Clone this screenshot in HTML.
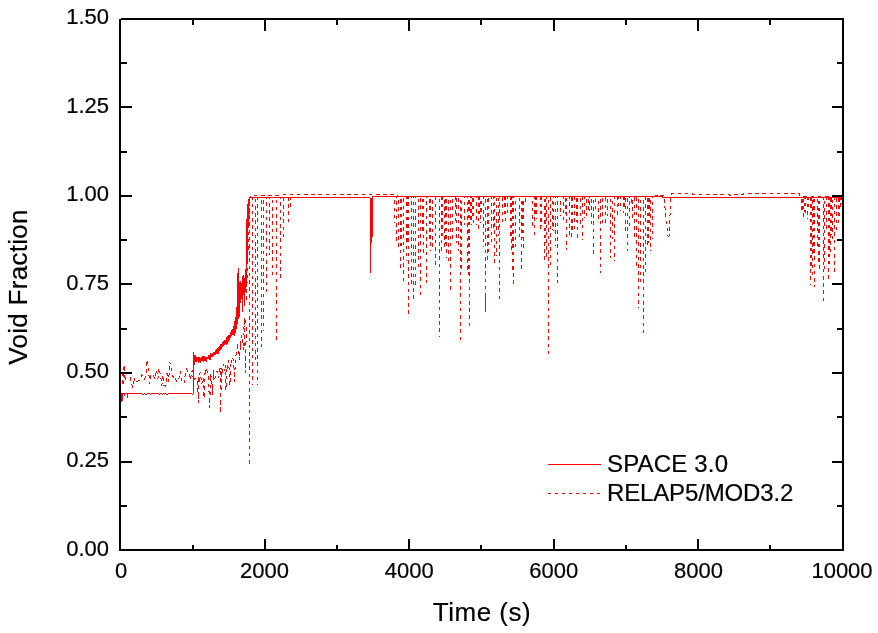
<!DOCTYPE html>
<html><head><meta charset="utf-8"><title>Void Fraction</title>
<style>html,body{margin:0;padding:0;background:#fff;}svg{display:block;}</style>
</head><body>
<svg width="878" height="633" viewBox="0 0 878 633">
<rect width="878" height="633" fill="#fff"/>
<g fill="none" stroke="#f00" stroke-width="1" shape-rendering="crispEdges">
<g stroke-dasharray="3.6 3.6">
<polyline points="121.0,373.5 122.0,373.8 122.9,385.7 124.1,365.1 125.0,381.1 126.4,374.2 127.1,372.9 128.5,373.3 129.2,373.0 130.1,374.3 131.2,382.3 132.7,387.7 133.4,382.0 134.1,377.4 135.2,383.0 136.7,381.1 138.3,381.0 140.0,379.9 141.6,374.8 143.0,375.2 144.7,379.1 146.3,374.0 147.0,359.6 148.3,368.0 149.7,384.1 150.7,374.9 152.4,374.9 153.4,375.1 155.0,379.3 156.4,369.9 158.0,378.6 159.0,367.9 159.9,371.9 161.0,378.9 161.8,385.6 163.2,374.9 164.0,385.9 165.6,386.1 167.0,373.4 168.6,381.8 169.8,361.6 171.3,369.7 172.7,375.4 173.9,379.9 175.6,379.0 177.0,382.2 178.6,380.6 180.1,371.3 181.5,379.6 183.2,383.9 184.3,382.9 185.1,375.4 186.3,368.9 187.9,371.4 188.8,371.1 190.4,379.8 192.1,370.3 193.6,381.6 195.2,378.0 197.0,378.3 198.4,403.0 199.3,375.5 198.2,382.7 200.1,372.1 201.9,384.0 203.4,377.4 204.0,398.0 204.9,373.3 204.8,376.1 206.3,368.0 208.3,375.3 209.7,407.5 210.6,374.0 210.1,375.5 211.5,377.1 212.5,395.0 213.4,369.7 212.9,372.3 214.8,379.8 216.0,372.2 216.9,371.1 218.7,377.8 220.1,367.9 220.6,413.0 221.5,367.7 221.6,377.0 222.6,374.1 223.4,364.2 224.5,371.3 225.7,365.2 226.0,390.0 226.9,368.8 226.6,370.6 227.5,366.5 228.6,360.5 230.0,385.0 230.9,365.7 230.0,362.1 231.2,363.2 232.2,357.0 233.8,361.5 234.5,382.0 235.4,359.5 235.6,357.0 237.4,346.9 237.3,343.0 238.2,353.6 239.2,352.8 239.5,360.0 240.4,344.5 240.4,349.6 241.4,335.0 242.3,340.0 242.4,343.0 243.5,350.0 244.4,333.2 243.5,335.4 244.6,317.9 245.4,372.6 246.3,327.7 245.9,320.3"/>
<polyline points="246.5,300.0 248.0,250.0 249.5,200.0 250.5,195.5 282.0,195.5 284.0,194.5 397.0,194.5 398.0,196.5 655.0,196.5 657.0,195.0 658.0,196.0 659.0,194.0 661.0,196.0 663.0,195.5 664.0,197.0 666.0,218.0 668.0,236.0 669.0,236.0 670.0,215.0 671.0,198.0 672.0,193.5 692.0,193.5 693.0,194.5 729.0,194.5 730.0,195.5 733.0,195.5 734.0,194.5 743.0,194.5 744.0,193.5 799.0,193.5 800.0,196.5 842.0,196.5"/>
<path d="M249.5 196.5V464.0" stroke-dashoffset="2.9"/>
<path d="M252.5 196.5V385.0" stroke-dashoffset="0.1"/>
<path d="M255.5 196.5V360.0" stroke-dashoffset="4.9"/>
<path d="M257.5 196.5V385.0" stroke-dashoffset="7.0"/>
<path d="M261.5 196.5V347.0" stroke-dashoffset="3.6"/>
<path d="M263.5 196.5V331.0" stroke-dashoffset="3.6"/>
<path d="M266.5 196.5V293.0" stroke-dashoffset="1.4"/>
<path d="M269.5 196.5V255.0" stroke-dashoffset="0.8"/>
<path d="M272.5 196.5V277.0" stroke-dashoffset="4.0"/>
<path d="M276.5 196.5V340.7" stroke-dashoffset="4.1"/>
<path d="M280.5 196.5V280.6" stroke-dashoffset="1.3"/>
<path d="M283.5 196.5V240.0" stroke-dashoffset="6.0"/>
<path d="M288.5 196.5V223.6" stroke-dashoffset="6.7"/>
<path d="M290.5 196.5V211.0" stroke-dashoffset="0.4"/>
<path d="M394.5 196.5V223.0" stroke-dashoffset="3.3"/>
<path d="M396.5 196.5V244.0" stroke-dashoffset="2.4"/>
<path d="M398.5 196.5V246.5" stroke-dashoffset="3.7"/>
<path d="M400.5 196.5V268.0M401.5 196.5V249.1" stroke-dashoffset="4.3"/>
<path d="M403.5 196.5V284.4" stroke-dashoffset="5.3"/>
<path d="M406.5 196.5V260.7M407.5 196.5V246.0" stroke-dashoffset="1.4"/>
<path d="M408.5 196.5V315.0" stroke-dashoffset="1.4"/>
<path d="M411.5 196.5V287.0" stroke-dashoffset="2.5"/>
<path d="M413.5 196.5V301.0M415.5 196.5V286.8" stroke-dashoffset="2.0"/>
<path d="M418.5 196.5V270.0" stroke-dashoffset="5.0"/>
<path d="M420.5 196.5V296.0" stroke-dashoffset="5.5"/>
<path d="M423.5 196.5V253.6M422.5 196.5V230.9" stroke-dashoffset="5.2"/>
<path d="M426.5 196.5V283.0" stroke-dashoffset="2.6"/>
<path d="M430.5 196.5V251.0M429.5 196.5V238.5" stroke-dashoffset="4.5"/>
<path d="M432.5 196.5V246.5" stroke-dashoffset="3.8"/>
<path d="M435.5 196.5V265.5" stroke-dashoffset="7.2"/>
<path d="M439.5 196.5V336.5" stroke-dashoffset="5.0"/>
<path d="M441.5 196.5V253.6M442.5 196.5V238.4" stroke-dashoffset="7.1"/>
<path d="M444.5 196.5V246.5" stroke-dashoffset="3.6"/>
<path d="M446.5 196.5V258.0M445.5 196.5V243.5" stroke-dashoffset="4.7"/>
<path d="M448.5 196.5V263.0" stroke-dashoffset="3.7"/>
<path d="M450.5 196.5V290.0" stroke-dashoffset="4.1"/>
<path d="M452.5 196.5V239.4" stroke-dashoffset="4.6"/>
<path d="M455.5 196.5V223.0" stroke-dashoffset="0.5"/>
<path d="M458.5 196.5V251.0M456.5 196.5V243.2" stroke-dashoffset="5.5"/>
<path d="M460.5 196.5V341.0" stroke-dashoffset="3.9"/>
<path d="M461.5 196.5V270.0" stroke-dashoffset="3.1"/>
<path d="M464.5 196.5V225.0" stroke-dashoffset="2.0"/>
<path d="M467.5 196.5V272.6" stroke-dashoffset="2.2"/>
<path d="M469.5 196.5V327.0M468.5 196.5V275.3" stroke-dashoffset="3.5"/>
<path d="M471.5 196.5V225.0M470.5 196.5V221.3" stroke-dashoffset="1.8"/>
<path d="M473.5 196.5V222.8M472.5 196.5V218.0" stroke-dashoffset="5.4"/>
<path d="M476.5 196.5V225.0" stroke-dashoffset="1.8"/>
<path d="M478.5 196.5V230.0M479.5 196.5V217.1" stroke-dashoffset="0.3"/>
<path d="M480.5 196.5V222.8M481.5 196.5V215.1" stroke-dashoffset="3.0"/>
<path d="M483.5 196.5V246.5" stroke-dashoffset="1.0"/>
<path d="M485.5 196.5V294.0" stroke-dashoffset="4.3"/>
<path d="M487.5 196.5V263.0" stroke-dashoffset="4.9"/>
<path d="M488.5 196.5V253.6" stroke-dashoffset="5.4"/>
<path d="M491.5 196.5V244.0M493.5 196.5V232.2" stroke-dashoffset="1.0"/>
<path d="M494.5 196.5V263.0" stroke-dashoffset="2.2"/>
<path d="M496.5 196.5V256.0M498.5 196.5V235.6" stroke-dashoffset="6.1"/>
<path d="M499.5 196.5V303.4" stroke-dashoffset="1.8"/>
<path d="M502.5 196.5V225.0" stroke-dashoffset="6.6"/>
<path d="M505.5 196.5V222.8M504.5 196.5V217.2" stroke-dashoffset="0.3"/>
<path d="M507.5 196.5V213.0" stroke-dashoffset="0.7"/>
<path d="M511.5 196.5V253.6M510.5 196.5V239.1" stroke-dashoffset="0.5"/>
<path d="M513.5 196.5V286.8M512.5 196.5V272.4" stroke-dashoffset="2.5"/>
<path d="M515.5 196.5V248.9" stroke-dashoffset="3.2"/>
<path d="M519.5 196.5V239.4" stroke-dashoffset="6.0"/>
<path d="M521.5 196.5V272.6" stroke-dashoffset="3.2"/>
<path d="M523.5 196.5V251.0M522.5 196.5V238.2" stroke-dashoffset="2.8"/>
<path d="M525.5 196.5V206.0" stroke-dashoffset="5.4"/>
<path d="M532.5 196.5V227.5" stroke-dashoffset="3.1"/>
<path d="M534.5 196.5V239.4" stroke-dashoffset="0.7"/>
<path d="M536.5 196.5V219.0M535.5 196.5V215.6" stroke-dashoffset="0.6"/>
<path d="M540.5 196.5V232.0M541.5 196.5V225.5" stroke-dashoffset="0.1"/>
<path d="M544.5 196.5V262.0M545.5 196.5V243.0" stroke-dashoffset="5.0"/>
<path d="M546.5 196.5V259.0" stroke-dashoffset="0.8"/>
<path d="M548.5 196.5V357.3" stroke-dashoffset="4.1"/>
<path d="M550.5 196.5V267.0" stroke-dashoffset="6.8"/>
<path d="M552.5 196.5V229.6" stroke-dashoffset="3.2"/>
<path d="M555.5 196.5V245.8M553.5 196.5V231.4" stroke-dashoffset="2.2"/>
<path d="M557.5 196.5V283.4" stroke-dashoffset="2.6"/>
<path d="M560.5 196.5V216.0" stroke-dashoffset="2.8"/>
<path d="M563.5 196.5V221.6" stroke-dashoffset="1.4"/>
<path d="M565.5 196.5V213.5" stroke-dashoffset="5.7"/>
<path d="M566.5 196.5V249.8" stroke-dashoffset="6.0"/>
<path d="M569.5 196.5V235.0" stroke-dashoffset="1.3"/>
<path d="M571.5 196.5V240.4M572.5 196.5V230.3" stroke-dashoffset="6.3"/>
<path d="M574.5 196.5V229.6" stroke-dashoffset="7.0"/>
<path d="M577.5 196.5V237.7M576.5 196.5V222.2" stroke-dashoffset="5.8"/>
<path d="M580.5 196.5V227.0" stroke-dashoffset="5.3"/>
<path d="M582.5 196.5V240.4" stroke-dashoffset="0.6"/>
<path d="M584.5 196.5V218.0" stroke-dashoffset="1.0"/>
<path d="M586.5 196.5V215.7M588.5 196.5V210.3" stroke-dashoffset="4.7"/>
<path d="M589.5 196.5V211.0" stroke-dashoffset="2.4"/>
<path d="M591.5 196.5V225.0" stroke-dashoffset="4.8"/>
<path d="M593.5 196.5V256.0" stroke-dashoffset="3.9"/>
<path d="M595.5 196.5V213.3" stroke-dashoffset="5.1"/>
<path d="M598.5 196.5V220.4" stroke-dashoffset="3.0"/>
<path d="M600.5 196.5V272.6" stroke-dashoffset="4.8"/>
<path d="M602.5 196.5V225.0" stroke-dashoffset="5.8"/>
<path d="M605.5 196.5V222.8" stroke-dashoffset="6.4"/>
<path d="M607.5 196.5V215.7" stroke-dashoffset="4.6"/>
<path d="M610.5 196.5V258.4" stroke-dashoffset="5.1"/>
<path d="M612.5 196.5V239.4" stroke-dashoffset="3.0"/>
<path d="M614.5 196.5V260.7" stroke-dashoffset="1.1"/>
<path d="M617.5 196.5V215.7" stroke-dashoffset="7.1"/>
<path d="M620.5 196.5V211.0M618.5 196.5V209.4" stroke-dashoffset="1.2"/>
<path d="M623.5 196.5V213.3M624.5 196.5V211.2" stroke-dashoffset="0.4"/>
<path d="M627.5 196.5V251.2M625.5 196.5V232.6" stroke-dashoffset="5.4"/>
<path d="M629.5 196.5V230.0" stroke-dashoffset="2.6"/>
<path d="M631.5 196.5V206.0" stroke-dashoffset="4.3"/>
<path d="M632.5 196.5V218.0" stroke-dashoffset="3.7"/>
<path d="M634.5 196.5V239.4" stroke-dashoffset="6.4"/>
<path d="M636.5 196.5V265.5" stroke-dashoffset="6.6"/>
<path d="M638.5 196.5V308.0" stroke-dashoffset="4.5"/>
<path d="M640.5 196.5V282.0" stroke-dashoffset="4.0"/>
<path d="M643.5 196.5V334.0" stroke-dashoffset="3.5"/>
<path d="M645.5 196.5V275.0" stroke-dashoffset="6.9"/>
<path d="M647.5 196.5V249.0M648.5 196.5V242.9" stroke-dashoffset="5.6"/>
<path d="M649.5 196.5V225.0" stroke-dashoffset="5.8"/>
<path d="M650.5 196.5V251.0" stroke-dashoffset="3.8"/>
<path d="M652.5 196.5V239.4" stroke-dashoffset="2.0"/>
<path d="M801.5 196.5V212.8M802.5 196.5V210.2" stroke-dashoffset="4.7"/>
<path d="M803.5 196.5V218.5" stroke-dashoffset="5.1"/>
<path d="M805.5 196.5V216.6M804.5 196.5V212.4" stroke-dashoffset="1.1"/>
<path d="M807.5 196.5V218.5M808.5 196.5V211.0" stroke-dashoffset="7.2"/>
<path d="M810.5 196.5V284.8M811.5 196.5V265.8" stroke-dashoffset="6.6"/>
<path d="M812.5 196.5V275.3" stroke-dashoffset="3.8"/>
<path d="M814.5 196.5V286.7M813.5 196.5V255.8" stroke-dashoffset="5.0"/>
<path d="M817.5 196.5V248.8" stroke-dashoffset="4.9"/>
<path d="M819.5 196.5V273.4M818.5 196.5V264.5" stroke-dashoffset="3.2"/>
<path d="M823.5 196.5V303.7" stroke-dashoffset="6.9"/>
<path d="M824.5 196.5V271.5" stroke-dashoffset="2.9"/>
<path d="M826.5 196.5V230.0" stroke-dashoffset="7.2"/>
<path d="M828.5 196.5V279.0M829.5 196.5V264.5" stroke-dashoffset="0.5"/>
<path d="M830.5 196.5V254.5M831.5 196.5V235.4" stroke-dashoffset="5.6"/>
<path d="M832.5 196.5V239.3" stroke-dashoffset="4.1"/>
<path d="M834.5 196.5V273.4" stroke-dashoffset="0.1"/>
<path d="M836.5 196.5V230.0M838.5 196.5V226.2" stroke-dashoffset="5.8"/>
<path d="M839.5 196.5V220.4" stroke-dashoffset="5.4"/>
<path d="M840.5 196.5V207.0M841.5 196.5V203.8" stroke-dashoffset="0.6"/>
</g>
<polyline points="120.5,401.0 121.5,401.0 121.5,393.5 124.0,393.5 124.5,395.5 125.0,393.5 127.5,393.5 127.5,398.0 128.0,393.5 128.0,393.5 129.5,393.5 131.0,393.5 132.5,393.5 134.0,393.5 135.5,393.5 137.0,393.5 138.5,393.5 140.0,393.5 141.5,393.5 143.0,394.5 144.5,393.5 146.0,394.5 147.5,393.5 149.0,393.5 150.5,394.5 152.0,393.5 153.5,393.5 155.0,393.5 156.5,393.5 158.0,393.5 159.5,394.5 161.0,393.5 162.5,394.5 164.0,393.5 165.5,393.5 167.0,394.5 168.5,393.5 170.0,393.5 171.5,393.5 173.0,393.5 174.5,393.5 176.0,393.5 177.5,393.5 179.0,393.5 180.5,393.5 182.0,393.5 183.5,393.5 185.0,393.5 186.5,393.5 188.0,393.5 189.5,393.5 191.0,393.5 192.5,394.5 193.5,393.5 193.5,353.0"/>
<polyline points="249.5,197.5 370.0,197.5 370.5,272.5 370.5,198.0 372.5,198.0 372.5,196.5 662.5,196.5 662.5,197.5 843.0,197.5"/>
<path d="M371.5 198V243M372.5 198V237M485.5 294V312M239.5 300V317M242.5 296V312M244.5 292V306"/>
<polygon points="193.3,351.8 194.3,355.1 195.3,355.1 196.3,357.1 197.3,357.4 198.3,356.6 199.3,356.8 200.3,358.8 201.3,356.7 202.3,356.5 203.3,356.3 204.3,356.3 205.3,357.3 206.3,356.7 207.3,356.9 208.3,355.5 209.3,354.9 210.3,353.1 211.3,354.5 212.3,353.9 213.3,351.3 214.3,352.5 215.3,350.7 216.3,349.7 217.3,347.5 218.3,347.7 219.3,346.6 220.3,344.4 221.3,344.6 222.3,342.2 223.3,340.9 224.3,339.7 225.3,340.5 226.3,337.3 227.3,336.2 228.3,335.1 229.3,335.1 230.3,333.1 231.3,329.6 232.3,329.4 233.3,326.8 234.3,321.5 235.3,318.4 236.3,310.8 237.0,300.0 237.6,268.0 238.8,268.0 239.3,282.0 240.5,281.0 241.2,286.0 242.0,277.0 243.5,275.0 244.3,280.0 245.0,274.0 246.2,262.0 246.2,225.0 247.3,205.0 249.0,197.0 250.2,197.0 249.5,205.0 248.5,225.0 247.5,262.0 247.3,290.0 246.5,287.2 245.5,291.9 244.5,292.2 243.5,295.0 242.5,298.2 241.5,299.0 240.5,303.2 239.5,312.0 238.5,318.7 237.5,323.9 236.5,329.2 235.5,332.7 234.5,335.6 233.5,335.2 232.5,335.3 231.5,336.3 230.5,337.6 229.5,339.8 228.5,342.4 227.5,343.9 226.5,345.2 225.5,344.2 224.5,345.2 223.5,346.3 222.5,347.4 221.5,349.3 220.5,350.4 219.5,350.7 218.5,353.7 217.5,353.5 216.5,354.4 215.5,355.2 214.5,355.3 213.5,356.0 212.5,356.7 211.5,357.4 210.5,359.9 209.5,360.4 208.5,358.9 207.5,359.4 206.5,361.7 205.5,360.8 204.5,361.1 203.5,362.4 202.5,361.4 201.5,360.8 200.5,362.9 199.5,361.9 198.5,363.2 197.5,361.2 196.5,362.0 195.5,361.8 194.5,365.0 194.3,364.0 194.3,394.0" fill="#f00" stroke="none"/>
<rect x="121" y="393" width="2" height="8" fill="#f00" stroke="none"/>
</g>
<g stroke="#000" stroke-width="2" fill="none">
<path d="M121 19H844M120 19V551M843 18V551M119 550H844"/>
<path d="M193 550V545M193 19V25"/>
<path d="M265 550V539M265 19V31"/>
<path d="M337 550V545M337 19V25"/>
<path d="M409 550V539M409 19V31"/>
<path d="M481 550V545M481 19V25"/>
<path d="M554 550V539M554 19V31"/>
<path d="M626 550V545M626 19V25"/>
<path d="M698 550V539M698 19V31"/>
<path d="M770 550V545M770 19V25"/>
<path d="M120 506H127M843 506H837"/>
<path d="M120 462H132M843 462H832"/>
<path d="M120 417H127M843 417H837"/>
<path d="M120 373H132M843 373H832"/>
<path d="M120 329H127M843 329H837"/>
<path d="M120 284H132M843 284H832"/>
<path d="M120 240H127M843 240H837"/>
<path d="M120 196H132M843 196H832"/>
<path d="M120 152H127M843 152H837"/>
<path d="M120 107H132M843 107H832"/>
<path d="M120 63H127M843 63H837"/>
</g>
<g font-family="'Liberation Sans', Arial, sans-serif" fill="#000" stroke="#000" stroke-width="0.2">
<g font-size="22" text-anchor="end">
<text x="109" y="24">1.50</text>
<text x="109" y="112.5">1.25</text>
<text x="109" y="201">1.00</text>
<text x="109" y="289.5">0.75</text>
<text x="109" y="378">0.50</text>
<text x="109" y="466.5">0.25</text>
<text x="109" y="555.5">0.00</text>
</g>
<g font-size="22" text-anchor="middle">
<text x="121" y="578">0</text>
<text x="264.6" y="578">2000</text>
<text x="409.2" y="578">4000</text>
<text x="553.8" y="578">6000</text>
<text x="698.4" y="578">8000</text>
<text x="842" y="578">10000</text>
</g>
<text x="482" y="621" font-size="26" letter-spacing="0.5" text-anchor="middle">Time (s)</text>
<text transform="translate(27,287) rotate(-90)" font-size="26" letter-spacing="0.3" text-anchor="middle">Void Fraction</text>
<g font-size="24">
<text x="607" y="472" letter-spacing="0.18">SPACE 3.0</text>
<text x="607" y="501" letter-spacing="-0.15">RELAP5/MOD3.2</text>
</g>
</g>
<g stroke="#f00" stroke-width="1" shape-rendering="crispEdges">
<path d="M548 464.5H601"/>
<path d="M548 493.5H601" stroke-dasharray="3 4"/>
</g>
</svg>
</body></html>
